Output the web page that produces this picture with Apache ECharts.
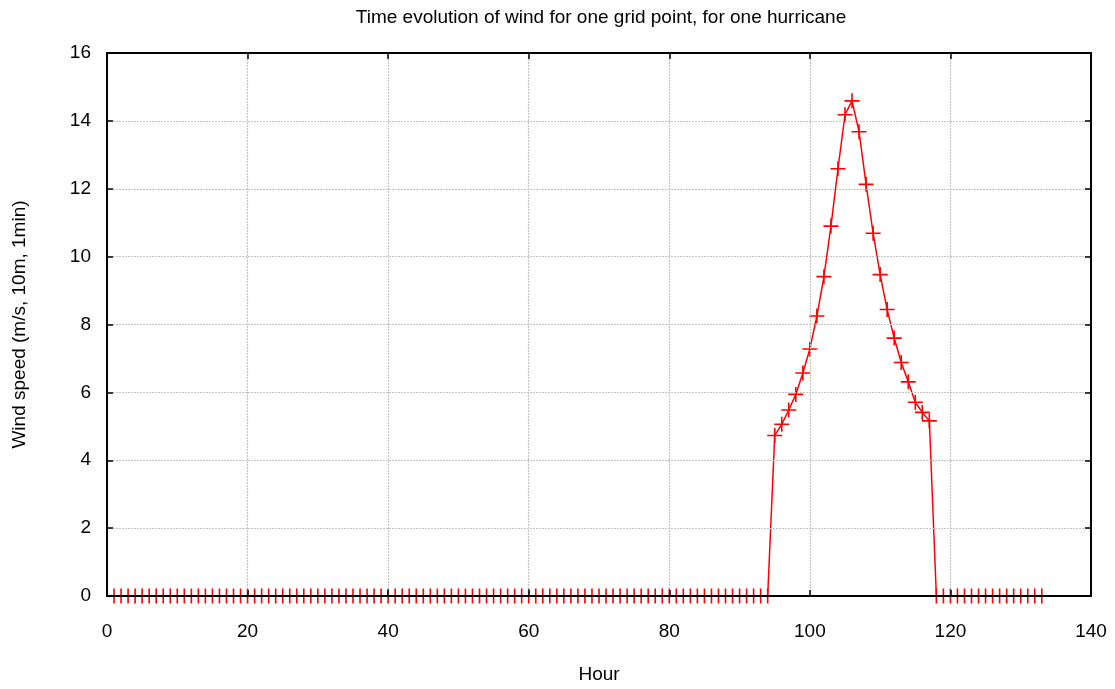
<!DOCTYPE html>
<html>
<head>
<meta charset="utf-8">
<script src="https://cdn.jsdelivr.net/npm/echarts@6/dist/echarts.min.js"></script>
<style>
html,body{margin:0;padding:0;background:#fff;}
#chart{width:1115px;height:689px;}
</style>
</head>
<body>
<div id="chart"></div>
<script>
var titleText = 'Time evolution of wind for one grid point, for one hurricane';
var xAxisName = 'Hour';
var yAxisName = 'Wind speed (m/s, 10m, 1min)';

var hours = [
  1,2,3,4,5,6,7,8,9,10,11,12,13,14,15,16,17,18,19,20,
  21,22,23,24,25,26,27,28,29,30,31,32,33,34,35,36,37,38,39,40,
  41,42,43,44,45,46,47,48,49,50,51,52,53,54,55,56,57,58,59,60,
  61,62,63,64,65,66,67,68,69,70,71,72,73,74,75,76,77,78,79,80,
  81,82,83,84,85,86,87,88,89,90,91,92,93,94,95,96,97,98,99,100,
  101,102,103,104,105,106,107,108,109,110,111,112,113,114,115,116,117,118,119,120,
  121,122,123,124,125,126,127,128,129,130,131,132,133
];

var windSpeed = [
  0,0,0,0,0,0,0,0,0,0,0,0,0,0,0,0,0,0,0,0,
  0,0,0,0,0,0,0,0,0,0,0,0,0,0,0,0,0,0,0,0,
  0,0,0,0,0,0,0,0,0,0,0,0,0,0,0,0,0,0,0,0,
  0,0,0,0,0,0,0,0,0,0,0,0,0,0,0,0,0,0,0,0,
  0,0,0,0,0,0,0,0,0,0,0,0,0,0,4.73,5.06,5.48,5.94,6.57,7.28,
  8.25,9.41,10.90,12.59,14.18,14.59,13.68,12.13,10.69,9.47,8.44,7.60,6.88,6.31,5.71,5.41,5.16,0,0,0,
  0,0,0,0,0,0,0,0,0,0,0,0,0
];

var xTicks = [0, 20, 40, 60, 80, 100, 120, 140];
var yTicks = [0, 2, 4, 6, 8, 10, 12, 14, 16];

var seriesData = hours.map(function (h, i) { return [h, windSpeed[i]]; });

var plusSymbol = 'path://M6.25,0L7.75,0L7.75,6.25L14,6.25L14,7.75L7.75,7.75L7.75,14L6.25,14L6.25,7.75L0,7.75L0,6.25L6.25,6.25Z';
var fontFam = '"Liberation Sans", Arial, sans-serif';

var chart = echarts.init(document.getElementById('chart'), null, {renderer: 'canvas'});

var tickStyle = {show: true, inside: true, length: 6, lineStyle: {color: '#000', width: 1.5}};
var gridLine = {show: true, lineStyle: {color: '#c4c4c4', width: 1.2, type: [2, 1]}};

chart.setOption({
  backgroundColor: '#fff',
  animation: false,
  title: {
    text: titleText,
    left: 596,
    top: 3,
    textAlign: 'center',
    textStyle: {fontFamily: fontFam, fontSize: 19, fontWeight: 'normal', color: '#000'}
  },
  grid: {
    left: 107, right: 24, top: 53, bottom: 92,
    show: true, borderColor: '#000', borderWidth: 2, backgroundColor: 'transparent'
  },
  xAxis: [{
    type: 'value',
    position: 'bottom',
    min: xTicks[0], max: xTicks[xTicks.length - 1], interval: 20,
    name: xAxisName,
    nameLocation: 'middle',
    nameGap: 69,
    nameTextStyle: {fontFamily: fontFam, fontSize: 19, color: '#000'},
    axisLine: {show: true, onZero: false, lineStyle: {color: '#000', width: 2}},
    axisTick: tickStyle,
    axisLabel: {fontFamily: fontFam, fontSize: 19, color: '#000', margin: 26},
    splitLine: gridLine,
    z: 5
  }, {
    type: 'value',
    position: 'top',
    min: xTicks[0], max: xTicks[xTicks.length - 1], interval: 20,
    axisLine: {show: true, onZero: false, lineStyle: {color: '#000', width: 2}},
    axisTick: tickStyle,
    axisLabel: {show: false},
    splitLine: {show: false},
    z: 5
  }],
  yAxis: [{
    type: 'value',
    position: 'left',
    min: yTicks[0], max: yTicks[yTicks.length - 1], interval: 2,
    name: yAxisName,
    nameLocation: 'middle',
    nameGap: 78,
    nameTextStyle: {fontFamily: fontFam, fontSize: 19, color: '#000'},
    axisLine: {show: true, onZero: false, lineStyle: {color: '#000', width: 2}},
    axisTick: tickStyle,
    axisLabel: {fontFamily: fontFam, fontSize: 19, color: '#000', margin: 16},
    splitLine: gridLine,
    z: 5
  }, {
    type: 'value',
    position: 'right',
    min: yTicks[0], max: yTicks[yTicks.length - 1], interval: 2,
    axisLine: {show: true, onZero: false, lineStyle: {color: '#000', width: 2}},
    axisTick: tickStyle,
    axisLabel: {show: false},
    splitLine: {show: false},
    z: 5
  }],
  series: [{
    type: 'line',
    xAxisIndex: 0,
    yAxisIndex: 0,
    data: seriesData,
    symbol: 'none',
    lineStyle: {color: '#ff0000', width: 1.5},
    z: 3
  }, {
    type: 'scatter',
    xAxisIndex: 0,
    yAxisIndex: 0,
    data: seriesData,
    symbol: plusSymbol,
    symbolSize: 15,
    itemStyle: {color: '#ff0000', opacity: 1},
    z: 4
  }]
});
</script>
</body>
</html>
